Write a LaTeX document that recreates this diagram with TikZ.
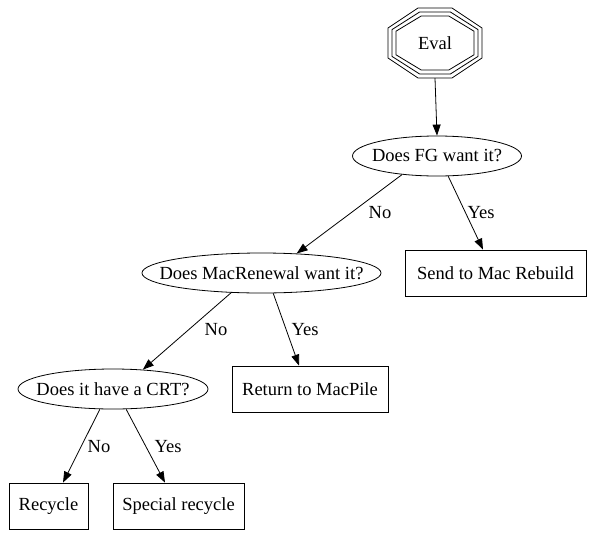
\documentclass[tikz,border=0pt]{standalone}
\usepackage{fontspec}
\setmainfont{Liberation Serif}
\usetikzlibrary{shapes.geometric,arrows.meta,calc}
\tikzset{
  every node/.style={font=\fontsize{18.5}{20}\selectfont, inner sep=0pt},
  qnode/.style={draw, ellipse, inner sep=0pt, minimum height=40pt, line width=0.8pt},
  box/.style={draw, rectangle, minimum height=46pt, line width=0.8pt},
  edge/.style={draw, line width=0.8pt, -{Triangle[length=11pt,width=8pt]}},
  lbl/.style={font=\fontsize{18.5}{20}\selectfont},
  oct/.style={draw, line width=0.8pt}
}
\begin{document}
\begin{tikzpicture}[x=1pt,y=-1pt]
\useasboundingbox (0,0) rectangle (591,538);
% Eval (triple octagon)
\node[minimum width=94pt, minimum height=70pt] (eval) at (435,43) {Eval};
\foreach \d in {0,4,8}{
  \pgfmathsetmacro{\w}{47-\d}
  \pgfmathsetmacro{\h}{35-\d}
  \pgfmathsetmacro{\a}{17-0.4*\d}
  \pgfmathsetmacro{\b}{15-0.4*\d}
  \draw[oct] ($(eval.center)+(-\a,-\h)$) -- ($(eval.center)+(\a,-\h)$) -- ($(eval.center)+(\w,-\b)$) -- ($(eval.center)+(\w,\b)$) -- ($(eval.center)+(\a,\h)$) -- ($(eval.center)+(-\a,\h)$) -- ($(eval.center)+(-\w,\b)$) -- ($(eval.center)+(-\w,-\b)$) -- cycle;
}
\node[qnode, minimum width=169pt] (fg) at (437,156) {\makebox[0pt]{Does FG want it?}};
\node[box, minimum width=181pt] (send) at (495.5,273) {Send to Mac Rebuild};
\node[qnode, minimum width=239pt] (mr) at (261.5,273) {\makebox[0pt]{Does MacRenewal want it?}};
\node[box, minimum width=156pt] (ret) at (310,389) {Return to MacPile};
\node[qnode, minimum width=190pt] (crt) at (113,389) {\makebox[0pt]{Does it have a CRT?}};
\node[box, minimum width=79pt] (rec) at (48.5,506) {Recycle};
\node[box, minimum width=131pt] (spec) at (178.5,506) {Special recycle};

\coordinate (sendin) at (send.north -| 483,0);
\coordinate (retin) at (ret.north -| 299,0);
\coordinate (recin) at (rec.north -| 63,0);
\coordinate (specin) at (spec.north -| 165,0);

\draw[edge] (eval.south) -- (fg.north);
\draw[edge] (fg.208) -- (mr.29) node[lbl] at (380,213) {No};
\draw[edge] (fg.299) -- (sendin) node[lbl] at (481,213) {Yes};
\draw[edge] (mr.213) -- (crt.33) node[lbl] at (216,330) {No};
\draw[edge] (mr.300) -- (retin) node[lbl] at (305,330) {Yes};
\draw[edge] (crt.237) -- (recin) node[lbl] at (99,447) {No};
\draw[edge] (crt.303) -- (specin) node[lbl] at (168,447) {Yes};
\end{tikzpicture}
\end{document}
